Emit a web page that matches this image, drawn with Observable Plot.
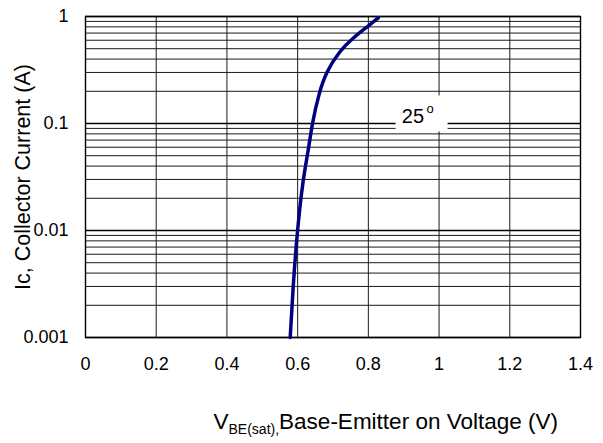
<!DOCTYPE html>
<html>
<head>
<meta charset="utf-8">
<script src="https://cdn.jsdelivr.net/npm/d3@7"></script>
<script src="https://cdn.jsdelivr.net/npm/@observablehq/plot@0.6"></script>
<style>
  html, body { margin: 0; padding: 0; background: #fff; }
</style>
</head>
<body>
<div id="chart"></div>
<script>
// Curve: V_BE(sat) (V) vs Ic (A) at 25°
const vbe = [0.579, 0.587, 0.599, 0.615, 0.631, 0.641, 0.660, 0.680, 0.719, 0.759, 0.801, 0.828];
const ic  = [0.001, 0.003, 0.01, 0.03, 0.058, 0.1, 0.19, 0.3, 0.48, 0.64, 0.82, 0.97];

const xTicks = [0, 0.2, 0.4, 0.6, 0.8, 1, 1.2, 1.4];
const xTickLabels = ["0", "0.2", "0.4", "0.6", "0.8", "1", "1.2", "1.4"];
const yTicks = [0.001, 0.01, 0.1, 1];
const yTickLabels = ["0.001", "0.01", "0.1", "1"];
const yGrid = [0.002,0.003,0.004,0.005,0.006,0.007,0.008,0.009,0.01,
               0.02,0.03,0.04,0.05,0.06,0.07,0.08,0.09,0.1,
               0.2,0.3,0.4,0.5,0.6,0.7,0.8,0.9];
const xGrid = [0.2, 0.4, 0.6, 0.8, 1, 1.2];

const curveLabel = [{x: 0.952, y: 0.123, main: "25", sup: "o"}];
const xTitleMain = "V";
const xTitleSub = "BE(sat),";
const xTitleRest = "Base-Emitter on Voltage (V)";
const yTitle = "Ic, Collector Current (A)";

const data = vbe.map((v, i) => ({v, i: ic[i]}));

const font = "'Liberation Sans', Arial, sans-serif";

const svg = Plot.plot({
  width: 603,
  height: 443,
  marginLeft: 85,
  marginRight: 23,
  marginTop: 16,
  marginBottom: 106,
  style: {fontFamily: font, fontSize: "18px", color: "#000", background: "#fff"},
  x: {domain: [0, 1.4]},
  y: {type: "log", domain: [0.001, 1]},
  marks: [
    Plot.ruleY(yGrid, {stroke: "#1a1a1a", strokeWidth: 1}),
    Plot.ruleX(xGrid, {stroke: "#1a1a1a", strokeWidth: 1}),
    Plot.tickY(yTicks, {y: d => d, x1: 0, x2: 0.014, stroke: "#000", strokeWidth: 1.5}),
    Plot.frame({stroke: "#000", strokeWidth: 1.4}),
    Plot.axisX({ticks: xTicks, tickFormat: d => xTickLabels[xTicks.indexOf(d)], tickSize: 0, tickPadding: 20, label: null, fontSize: 18}),
    Plot.axisY({ticks: yTicks, tickFormat: d => yTickLabels[yTicks.indexOf(d)], tickSize: 0, tickPadding: 17, label: null, fontSize: 18}),
    Plot.line(data, {x: "v", y: "i", stroke: "#000080", strokeWidth: 3.5, curve: "basis"}),
    Plot.rect(curveLabel, {x1: "x", x2: "x", y1: "y", y2: "y", insetLeft: -26, insetRight: -26, insetTop: -18, insetBottom: -18, fill: "#fff"}),
    Plot.text(curveLabel, {x: "x", y: "y", text: "main", textAnchor: "end", dx: 2, dy: 2.5, fontSize: 20, fill: "#000"}),
    Plot.text(curveLabel, {x: "x", y: "y", text: "sup", textAnchor: "middle", dx: 8, dy: -5, fontSize: 13, fill: "#000"}),
    Plot.text([yTitle], {frameAnchor: "left", textAnchor: "middle", lineAnchor: "middle", rotate: -90, dx: -62, fontSize: 21.5, fill: "#000"}),
    Plot.text([xTitleRest], {frameAnchor: "bottom-left", textAnchor: "start", lineAnchor: "bottom", dx: 128, dy: 91, fontSize: 22.5, fill: "#000"})
  ]
});

// Rebuild the x-axis title with a subscript
const t = d3.select(svg).selectAll("text").filter(function() { return this.textContent === xTitleRest; });
t.text(null);
t.append("tspan").text(xTitleMain);
t.append("tspan").attr("font-size", 14).attr("dy", "5").text(xTitleSub);
t.append("tspan").attr("dy", "-5").text(xTitleRest);

document.getElementById("chart").appendChild(svg);
</script>
</body>
</html>
